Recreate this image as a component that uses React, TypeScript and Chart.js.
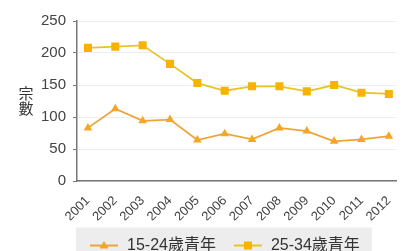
import React, { useEffect, useRef } from 'react';
import { Chart, registerables } from 'chart.js';

Chart.register(...registerables);

const years = ['2001', '2002', '2003', '2004', '2005', '2006', '2007', '2008', '2009', '2010', '2011', '2012'];
const youth15to24 = [83, 113, 94, 96, 64, 74, 65, 83, 78, 62, 65, 70];
const youth25to34 = [208, 210, 212, 183, 153, 141, 148, 148, 140, 150, 138, 136];
const seriesLabels = ['15-24歲青年', '25-34歲青年'];
const yAxisTitle = ['宗', '數'];

const FONT = "'Liberation Sans', 'Noto Sans CJK TC', sans-serif";

const C1_LINE = '#EFA43A';
const C1_FILL = '#F5A623';
const C2_LINE = '#E9C425';
const C2_FILL = '#F6B400';

function legendIcon(line: string, fill: string, shape: 'triangle' | 'rect') {
  const c = document.createElement('canvas');
  c.width = 30;
  c.height = 12;
  const ctx = c.getContext('2d')!;
  ctx.strokeStyle = line;
  ctx.lineWidth = 2;
  ctx.beginPath();
  ctx.moveTo(1, 6);
  ctx.lineTo(29, 6);
  ctx.stroke();
  ctx.fillStyle = fill;
  ctx.beginPath();
  if (shape === 'triangle') {
    ctx.moveTo(15, 1.5);
    ctx.lineTo(19.5, 9);
    ctx.lineTo(10.5, 9);
    ctx.closePath();
  } else {
    ctx.rect(11, 2, 8, 8);
  }
  ctx.fill();
  return c;
}

const LEGEND_SHIFT = -5;

const bgPlugin = {
  id: 'legendBg',
  afterLayout(chart: any) {
    const lg = chart.legend;
    if (!lg) return;
    lg.left += LEGEND_SHIFT;
    lg.right += LEGEND_SHIFT;
    (lg.legendHitBoxes || []).forEach((h: any) => {
      h.left += LEGEND_SHIFT;
    });
  },
  beforeDraw(chart: any) {
    const lg = chart.legend;
    if (!lg || !lg.legendHitBoxes || lg.legendHitBoxes.length < 2) return;
    const hb = lg.legendHitBoxes;
    const first = hb[0];
    const last = hb[hb.length - 1];
    const cy = first.top + first.height / 2;
    const ctx = chart.ctx;
    ctx.save();
    ctx.fillStyle = '#EDEDED';
    const left = first.left - 13;
    const right = last.left + last.width + 12;
    const top = cy - 18;
    ctx.fillRect(left, top, right - left, chart.height - top);
    ctx.restore();
  },
};

export default function App() {
  const ref = useRef<HTMLCanvasElement>(null);

  useEffect(() => {
    document.body.style.margin = '0';
    const canvas = ref.current!;
    const icons = [legendIcon(C1_LINE, C1_FILL, 'triangle'), legendIcon(C2_LINE, C2_FILL, 'rect')];
    const chart = new Chart(canvas, {
      type: 'line',
      data: {
        datasets: [
          {
            label: seriesLabels[0],
            data: years.map((y, i) => ({ x: Number(y), y: youth15to24[i] })),
            borderColor: C1_LINE,
            backgroundColor: C1_FILL,
            borderWidth: 1.8,
            pointStyle: 'triangle',
            pointRadius: 5,
            pointBorderWidth: 0,
            pointBackgroundColor: C1_FILL,
            tension: 0,
          },
          {
            label: seriesLabels[1],
            data: years.map((y, i) => ({ x: Number(y), y: youth25to34[i] })),
            borderColor: C2_LINE,
            backgroundColor: C2_FILL,
            borderWidth: 1.8,
            pointStyle: 'rect',
            pointRadius: 5.7,
            pointBorderWidth: 0,
            pointBackgroundColor: C2_FILL,
            tension: 0,
          },
        ],
      },
      options: {
        animation: false,
        responsive: false,
        devicePixelRatio: 1,
        layout: { padding: { top: 21, right: 2, bottom: -12.5, left: 0 } },
        font: { family: FONT },
        plugins: {
          tooltip: { enabled: false },
          legend: {
            position: 'bottom',
            align: 'start',
            fullSize: false,
            labels: {
              usePointStyle: true,
              pointStyleWidth: 30,
              padding: 17,
              color: '#333',
              font: { size: 16, family: FONT },
              generateLabels: (ch: any) =>
                ch.data.datasets.map((ds: any, i: number) => ({
                  text: ds.label,
                  pointStyle: icons[i],
                  fillStyle: ds.backgroundColor,
                  strokeStyle: ds.borderColor,
                  lineWidth: 0,
                  hidden: false,
                  datasetIndex: i,
                  fontColor: '#333',
                })),
            },
          },
        },
        scales: {
          x: {
            type: 'linear',
            min: 2000.6,
            max: 2012.28,
            afterBuildTicks: (scale: any) => {
              scale.ticks = years.map((y) => ({ value: Number(y) }));
            },
            afterFit: (scale: any) => {
              scale.height = 39.5;
            },
            grid: { display: false },
            border: { display: true, color: '#777', width: 1.5 },
            ticks: {
              autoSkip: false,
              minRotation: 45,
              maxRotation: 45,
              padding: 4,
              color: '#444',
              font: { size: 13, family: FONT },
              callback: (v: any) => {
                const idx = years.indexOf(String(v));
                return idx >= 0 ? years[idx] : '';
              },
            },
          },
          y: {
            min: 0,
            max: 250,
            afterFit: (scale: any) => {
              scale.width = 77;
            },
            grid: { color: '#EEEEEE', tickColor: '#777', tickLength: 4, lineWidth: 1 },
            border: { display: true, color: '#777', width: 1.5 },
            ticks: {
              stepSize: 50,
              padding: 7,
              color: '#444',
              font: { size: 15, family: FONT },
            },
          },
        },
      },
      plugins: [bgPlugin],
    } as any);
    return () => chart.destroy();
  }, []);

  return (
    <div style={{ position: 'relative', width: 404, height: 251 }}>
      <canvas ref={ref} width={404} height={251} style={{ display: 'block' }} />
      <div
        style={{
          position: 'absolute',
          left: 18,
          top: 85,
          width: 16,
          fontFamily: "'Noto Sans CJK TC', sans-serif",
          fontSize: 15,
          lineHeight: '15px',
          color: '#333',
          textAlign: 'center',
        }}
      >
        {yAxisTitle.map((ch) => (
          <div key={ch}>{ch}</div>
        ))}
      </div>
    </div>
  );
}
